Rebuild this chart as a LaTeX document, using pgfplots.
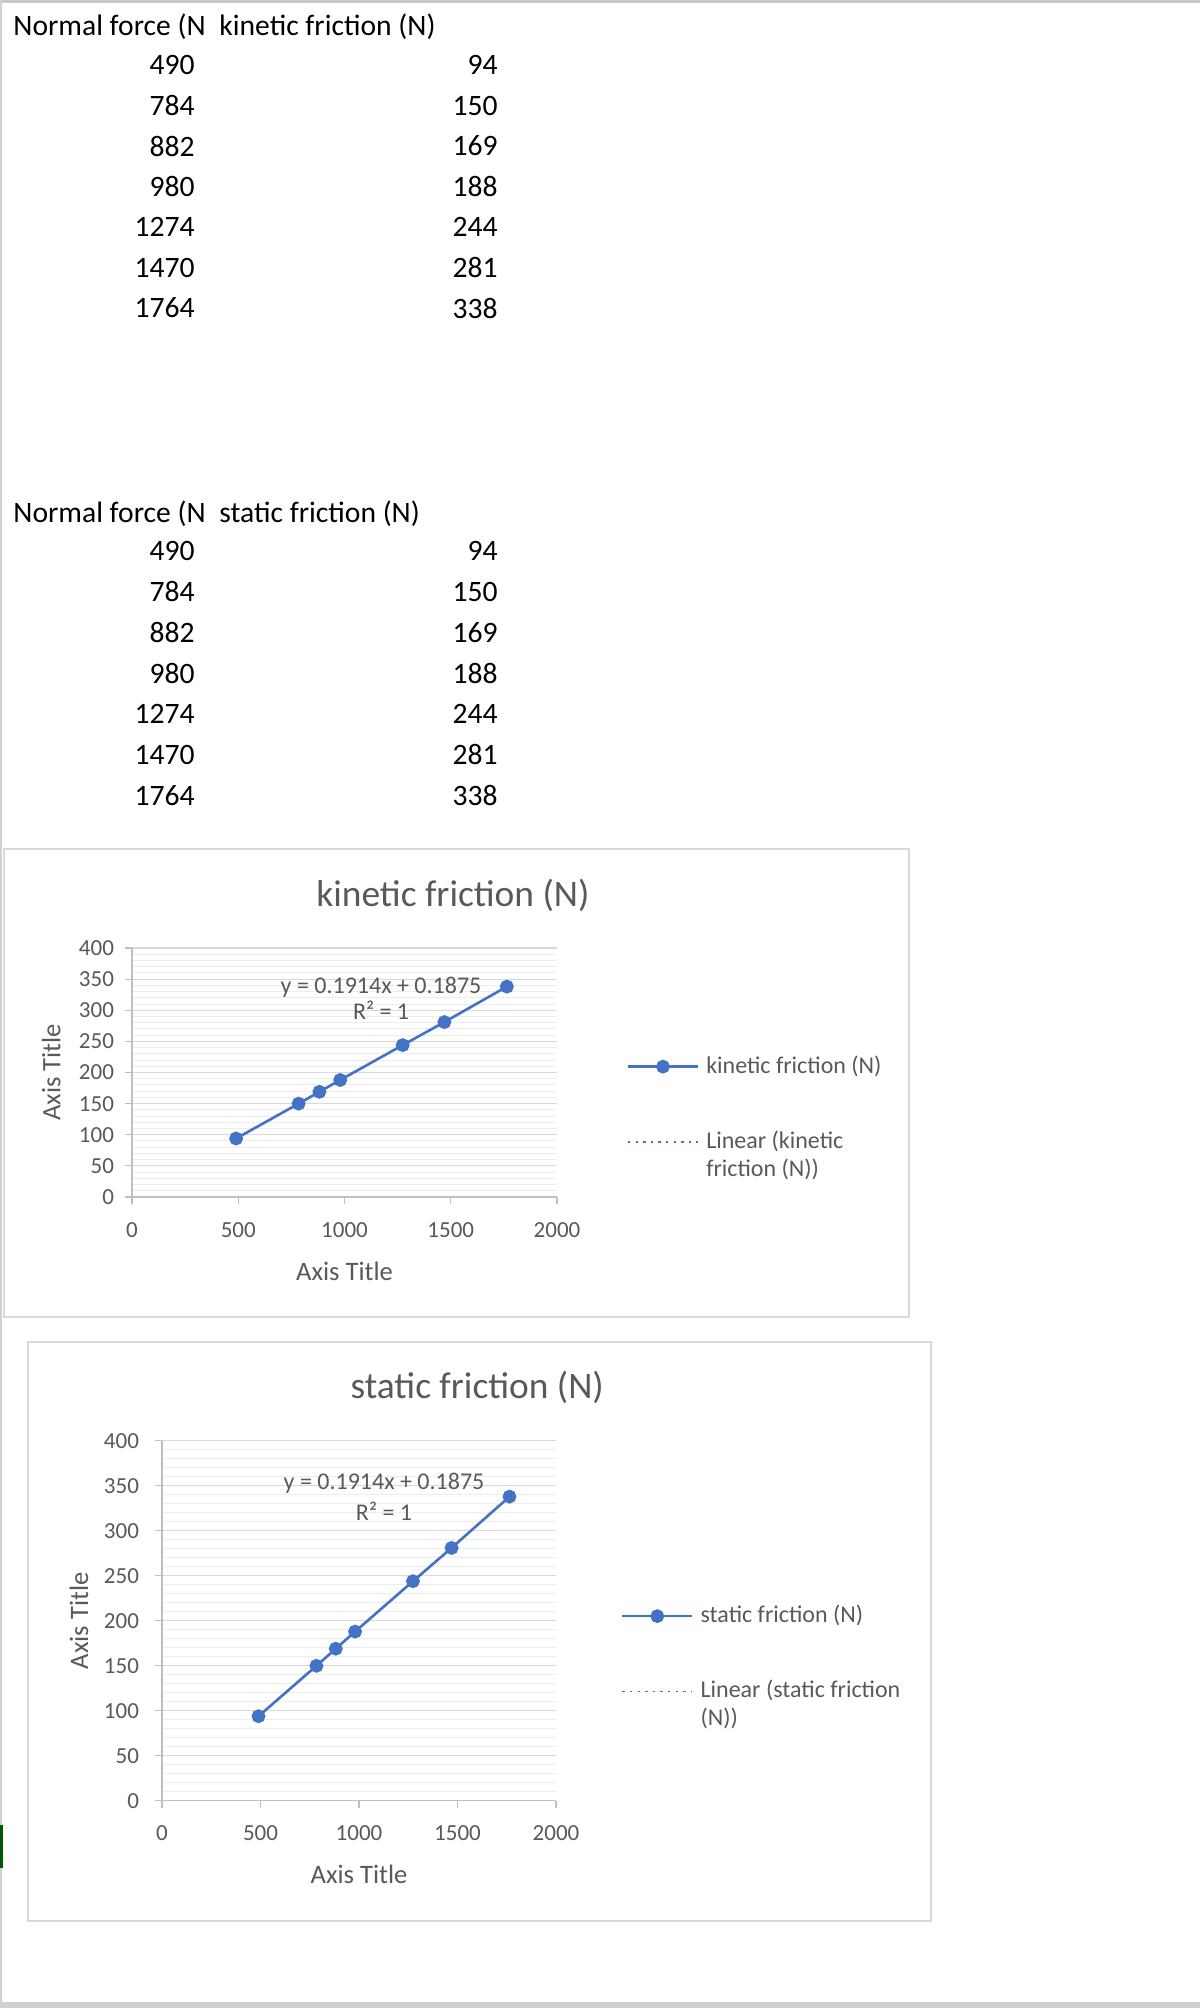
\documentclass[border=0pt]{standalone}
\usepackage{pgfplots}
\pgfplotsset{compat=1.18}
\usepackage{pgfplotstable}
\usepackage{fontspec}
\setmainfont{Carlito}

\definecolor{xlblue}{HTML}{4472C4}
\definecolor{txtgray}{HTML}{595959}
\definecolor{gridmaj}{HTML}{D9D9D9}
\definecolor{gridmin}{HTML}{EDEDED}
\definecolor{axgray}{HTML}{BFBFBF}
\definecolor{framegray}{HTML}{D9D9D9}

% measured values
\pgfplotstableread{
normal kinetic
490  94
784  150
882  169
980  188
1274 244
1470 281
1764 338
}\kinetic

\pgfplotstableread{
normal static
490  94
784  150
882  169
980  188
1274 244
1470 281
1764 338
}\static

% Excel linear trendline y = 0.1914x + 0.1875 between first and last x
\pgfplotstableread{
x y
490  93.97
1764 337.82
}\trend

\pgfplotsset{
  excel/.style={
    scale only axis,
    xmin=0, xmax=2000, ymin=0, ymax=400,
    xtick={0,500,...,2000}, ytick={0,50,...,400},
    minor y tick num=4,
    axis lines=left,
    axis line style={-, draw=axgray, line width=0.6pt},
    tick align=outside,
    major tick length=3.5pt, minor tick length=0pt,
    tick style={draw=axgray, line width=0.6pt},
    ymajorgrids, yminorgrids,
    major grid style={draw=gridmaj, line width=0.6pt},
    minor grid style={draw=gridmin, line width=0.5pt},
    /pgf/number format/assume math mode=true,
    /pgf/number format/1000 sep={},
    ticklabel style={font=\fontsize{11.5}{13}\selectfont, text=txtgray},
    xticklabel style={yshift=-5.5pt},
    label style={font=\fontsize{13.3}{15}\selectfont, text=txtgray},
    title style={font=\fontsize{18.7}{22}\selectfont, text=txtgray, anchor=center},
    xlabel={Axis Title}, ylabel={Axis Title},
    legend style={draw=none, fill=none, inner sep=0pt, anchor=north west,
      font=\fontsize{12}{14}\selectfont, text=txtgray,
      nodes={inner sep=0pt},
      cells={anchor=base west}, column sep=3.5pt, row sep=27.4pt},
    legend image code/.code={
      \draw[mark repeat=2, mark phase=2, ##1] plot coordinates {(0pt,3.2pt) (17.5pt,3.2pt) (35pt,3.2pt)};
    },
  },
  series/.style={xlblue, line width=1.3pt, mark=*, mark size=2.8pt,
    mark options={solid, fill=xlblue}},
  trend/.style={xlblue, line width=0.9pt, dash pattern=on 1.2pt off 2.6pt},
}

\tikzset{
  tab/.style={font=\fontsize{14.8}{17}\selectfont, inner sep=0pt},
  eqn/.style={font=\fontsize{12}{14}\selectfont, text=txtgray, inner sep=0pt},
}

\begin{document}
\begin{tikzpicture}
\begin{scope}[x=0.5pt, y=-0.5pt]
  \useasboundingbox (0,0) rectangle (1200,2008);
  \fill[white] (0,0) rectangle (1200,2008);
  \fill[black!22] (0,0) rectangle (1200,3);
  \fill[black!18] (0,0) rectangle (2,2008);
  \fill[black!18] (0,2002) rectangle (1200,2008);
  \fill[green!35!black] (0,1825) rectangle (3,1868);

  % first sheet table
  \node[tab, anchor=west] at (13,27) {Normal force (N};
  \node[tab, anchor=west] at (219,27) {kinetic friction (N)};
  \foreach \a/\b [count=\i from 0] in {490/94,784/150,882/169,980/188,1274/244,1470/281,1764/338} {
    \node[tab, anchor=east] at (195,65+40.5*\i) {\a};
    \node[tab, anchor=east] at (498,65+40.5*\i) {\b};
  }
  % second sheet table
  \node[tab, anchor=west] at (13,514) {Normal force (N};
  \node[tab, anchor=west] at (219,514) {static friction (N)};
  \foreach \a/\b [count=\i from 0] in {490/94,784/150,882/169,980/188,1274/244,1470/281,1764/338} {
    \node[tab, anchor=east] at (195,551+40.7*\i) {\a};
    \node[tab, anchor=east] at (498,551+40.7*\i) {\b};
  }

  % chart frames
  \draw[framegray, line width=0.6pt] (4,849) rectangle (909,1317);
  \draw[framegray, line width=0.6pt] (28,1342) rectangle (931,1921);
\end{scope}

% kinetic friction chart
\begin{axis}[excel,
  at={(66pt,-598.5pt)}, anchor=south west,
  width=212.5pt, height=124.5pt,
  title={kinetic friction (N)},
  title style={at={(axis description cs:0.755,1.165)}},
  yticklabel style={xshift=-2pt},
  xlabel style={at={(axis description cs:0.5,-0.297)}, anchor=center},
  ylabel style={at={(axis description cs:-0.19,0.5)}, anchor=center},
  legend style={at={(axis description cs:1.163,0.570)}},
]
  \addplot[series] table[x=normal, y=kinetic] {\kinetic};
  \addlegendentry{kinetic friction (N)}
  \addplot[trend] table[x=x, y=y] {\trend};
  \addlegendentry{\parbox[t]{110pt}{\raggedright Linear (kinetic\\friction (N))}}
  \node[eqn] at (axis cs:1172,337) {y = 0.1914x + 0.1875};
  \node[eqn] at (axis cs:1172,300) {R² = 1};
\end{axis}

% static friction chart
\begin{axis}[excel,
  at={(81pt,-900.4pt)}, anchor=south west,
  width=197pt, height=180pt,
  title={static friction (N)},
  title style={at={(axis description cs:0.80,1.114)}},
  yticklabel style={xshift=-4.5pt},
  xlabel style={at={(axis description cs:0.5,-0.203)}, anchor=center},
  ylabel style={at={(axis description cs:-0.211,0.5)}, anchor=center},
  legend style={at={(axis description cs:1.164,0.545)}},
]
  \addplot[series] table[x=normal, y=static] {\static};
  \addlegendentry{static friction (N)}
  \addplot[trend] table[x=x, y=y] {\trend};
  \addlegendentry{\parbox[t]{110pt}{\raggedright Linear (static friction\\(N))}}
  \node[eqn] at (axis cs:1127,353) {y = 0.1914x + 0.1875};
  \node[eqn] at (axis cs:1127,322) {R² = 1};
\end{axis}
\end{tikzpicture}
\end{document}
